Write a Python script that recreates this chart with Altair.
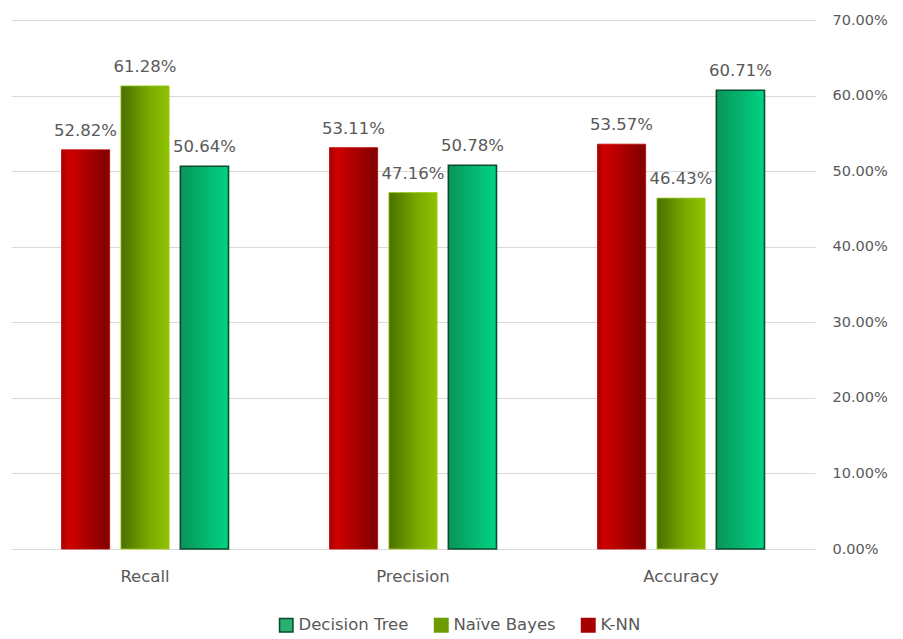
import altair as alt
import pandas as pd

categories = ["Recall", "Precision", "Accuracy"]
series = ["K-NN", "Naïve Bayes", "Decision Tree"]
knn = [0.5282, 0.5311, 0.5357]
nb = [0.6128, 0.4716, 0.4643]
dt = [0.5064, 0.5078, 0.6071]
legend_order = ["Decision Tree", "Naïve Bayes", "K-NN"]
y_ticks = [0, 0.1, 0.2, 0.3, 0.4, 0.5, 0.6, 0.7]

rows = []
for s, vals in zip(series, [knn, nb, dt]):
    for c, v in zip(categories, vals):
        rows.append({"Metric": c, "Series": s, "Value": v})
df = pd.DataFrame(rows)

FONT = "DejaVu Sans"
GRAY = "#595959"

x_enc = alt.X("Metric:N", sort=categories, title=None,
              scale=alt.Scale(paddingInner=0, paddingOuter=0),
              axis=alt.Axis(labelFontSize=16.5, labelColor=GRAY, labelFont=FONT,
                            labelPadding=19, ticks=False, domain=False, labelAngle=0))
xo_enc = alt.XOffset("Series:N", scale=alt.Scale(domain=series, paddingInner=0.19, paddingOuter=0.85))
y_enc = alt.Y("Value:Q", title=None,
              scale=alt.Scale(domain=[0, 0.7], nice=False),
              axis=alt.Axis(orient="right", values=y_ticks, format=".2%", labelFontSize=14.5,
                            labelColor=GRAY, labelFont=FONT, labelPadding=17, ticks=False,
                            domain=False, gridColor="#d9d9d9", gridWidth=1.2, labelAlign="left"))

def grad(stops):
    return alt.Gradient(gradient="linear", x1=0, x2=1, y1=0, y2=0,
                        stops=[alt.GradientStop(offset=o, color=c) for o, c in stops])

styles = {
    "K-NN": dict(fill=grad([(0, "#a80000"), (0.15, "#cf0000"), (1, "#7e0000")]),
                 stroke="#c00000", strokeWidth=0.8),
    "Naïve Bayes": dict(fill=grad([(0, "#4a6f00"), (0.6, "#7aab00"), (1, "#8fc200")]),
                        stroke="#9acc10", strokeWidth=0.8),
    "Decision Tree": dict(fill=grad([(0, "#08955a"), (1, "#00d484")]),
                          stroke="#0b4a2c", strokeWidth=1.6),
}

base = alt.Chart(df)
layers = []
for s in series:
    layers.append(
        base.transform_filter(alt.datum.Series == s)
        .mark_bar(**styles[s])
        .encode(x=x_enc, xOffset=xo_enc, y=y_enc)
    )

labels = base.transform_calculate(
    label="format(datum.Value, '.2%')"
).mark_text(baseline="bottom", dy=-11, fontSize=16.5, font=FONT, color=GRAY).encode(
    x=alt.X("Metric:N", sort=categories), xOffset=alt.XOffset("Series:N"),
    y="Value:Q", text="label:N")

legend_layer = base.mark_square(opacity=0).encode(
    fill=alt.Fill("Series:N", scale=alt.Scale(domain=legend_order,
                                              range=["#27b070", "#6e9c00", "#a80000"]),
                  legend=alt.Legend(title=None, orient="none", direction="horizontal",
                                    legendX=267, legendY=597, symbolType="square",
                                    symbolSize=180, symbolOpacity=1, labelFontSize=16.5,
                                    labelFont=FONT, labelColor=GRAY, columnPadding=22,
                                    symbolStrokeWidth=1.5, labelOffset=4)),
    stroke=alt.Stroke("Series:N", scale=alt.Scale(domain=legend_order,
                                                  range=["#0b4a2c", "#6e9c00", "#a80000"]),
                      legend=None),
)

chart = alt.layer(*layers, labels, legend_layer).properties(
    width=804, height=529,
    autosize=alt.AutoSizeParams(type="none"),
    padding={"left": 3, "top": 12, "right": 80, "bottom": 94},
    background="white",
).configure_view(stroke=None)

chart.save("out.html", embed_options={"renderer": "svg", "actions": False})
